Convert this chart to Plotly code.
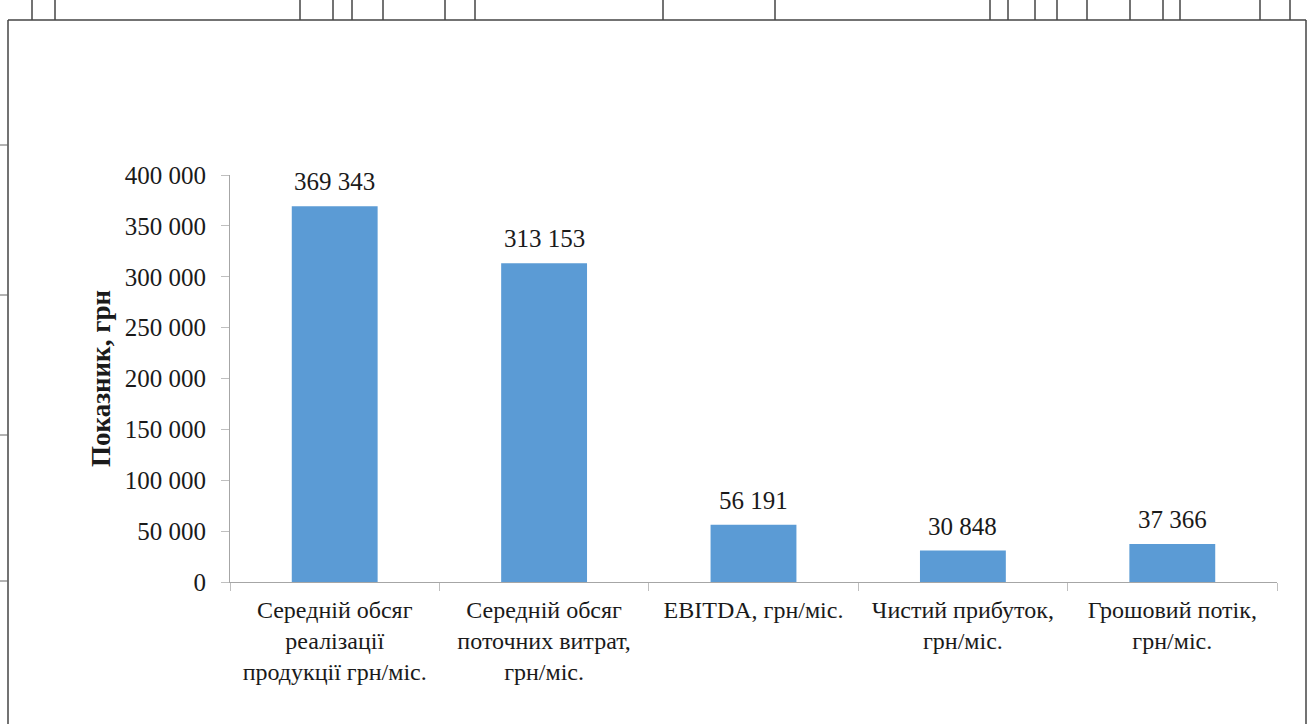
import plotly.graph_objects as go

categories = [
    "Середній обсяг<br>реалізації<br>продукції грн/міс.",
    "Середній обсяг<br>поточних витрат,<br>грн/міс.",
    "EBITDA, грн/міс.",
    "Чистий прибуток,<br>грн/міс.",
    "Грошовий потік,<br>грн/міс.",
]
values = [369343, 313153, 56191, 30848, 37366]
y_ticks = [0, 50000, 100000, 150000, 200000, 250000, 300000, 350000, 400000]

W, H = 1312, 724
L, R, T, B = 230, 1277, 175, 582

def px(x):
    return (x - L) / (R - L)

def py(y):
    return (B - y) / (B - T)

FONT = "Liberation Serif"
TXT = "#1a1a1a"

fig = go.Figure(go.Bar(
    x=categories,
    y=values,
    marker=dict(color="#5B9BD5", line=dict(width=0)),
    width=0.41,
    cliponaxis=False,
))

annotations = [
    dict(x=c, y=v, xref="x", yref="y", text=f"{v:,}".replace(",", " "),
         showarrow=False, yanchor="bottom", yshift=9,
         font=dict(family=FONT, size=25, color=TXT))
    for c, v in zip(categories, values)
]

shapes = []
line_style = dict(color="#444444", width=1.5)
# outer frame
shapes.append(dict(type="line", xref="paper", yref="paper", x0=px(8), x1=px(1306), y0=py(20), y1=py(20), line=line_style))
shapes.append(dict(type="line", xref="paper", yref="paper", x0=px(8), x1=px(8), y0=py(20), y1=py(724), line=line_style))
shapes.append(dict(type="line", xref="paper", yref="paper", x0=px(1306), x1=px(1306), y0=py(20), y1=py(724), line=line_style))
# table remnants at top
for xv in [32, 55, 300, 333, 352, 383, 445, 475, 663, 775, 990, 1008, 1035, 1057, 1087, 1130, 1163, 1180, 1260, 1290]:
    shapes.append(dict(type="line", xref="paper", yref="paper", x0=px(xv), x1=px(xv), y0=py(0), y1=py(20), line=line_style))
# left margin marks
for yv in [145, 295, 435, 581]:
    shapes.append(dict(type="line", xref="paper", yref="paper", x0=px(0), x1=px(8), y0=py(yv), y1=py(yv), line=dict(color="#666666", width=1)))

fig.update_layout(
    width=W, height=H,
    margin=dict(l=L, r=W - R, t=T, b=H - B),
    paper_bgcolor="white", plot_bgcolor="white",
    separators=". ",
    showlegend=False,
    shapes=shapes,
    annotations=annotations,
    font=dict(family=FONT, size=24, color=TXT),
    xaxis=dict(
        type="category",
        showline=True, linecolor="#A6A6A6", linewidth=1,
        ticks="outside", tickson="boundaries", ticklen=8, tickcolor="#BFBFBF",
        ticklabelstandoff=6,
        tickfont=dict(family=FONT, size=24, color=TXT),
        showgrid=False,
    ),
    yaxis=dict(
        range=[0, 400000],
        tickvals=y_ticks,
        tickformat=",d",
        showline=True, linecolor="#A6A6A6", linewidth=1,
        ticks="outside", ticklen=8, tickcolor="#BFBFBF",
        ticklabelstandoff=10,
        tickfont=dict(family=FONT, size=25, color=TXT),
        showgrid=False, zeroline=False,
        title=dict(text="<b>Показник, грн</b>", font=dict(family=FONT, size=27, color=TXT), standoff=6),
    ),
)

fig.write_html("out.html")
